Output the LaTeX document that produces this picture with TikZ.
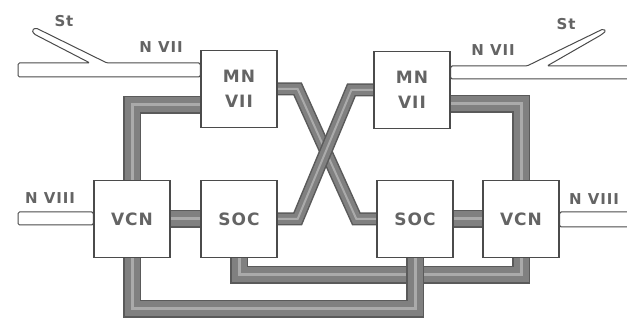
\documentclass[tikz,border=0pt]{standalone}
\usepackage{fontspec}
\newfontfamily\lblfont[LetterSpace=6]{DejaVu Sans Bold}
\usepackage{tikz}
\usetikzlibrary{backgrounds, calc}
\definecolor{boxgray}   {RGB}{ 75, 75, 75}
\definecolor{txtgray}   {RGB}{100,100,100}
\definecolor{cabledark} {RGB}{ 90, 90, 90}
\definecolor{cablemid}  {RGB}{128,128,128}
\definecolor{cablelight}{RGB}{170,170,170}

\begin{document}
\begin{tikzpicture}[x=1pt,y=-1pt,
	blok/.style={draw=boxgray,line width=1.3pt,fill=white,minimum width=76pt,minimum height=77pt,
		inner sep=0pt,align=center,text=txtgray,font=\lblfont\fontsize{17}{25}\selectfont},
	lbl/.style={text=txtgray,inner sep=0pt,font=\lblfont\fontsize{15}{18}\selectfont},
	road/.style={draw=boxgray,line width=1pt,fill=white,rounded corners=1.5pt},
	cable/.style={preaction={draw=cabledark,line width=18pt},draw=cablemid,line width=15pt,
		postaction={draw=cablelight,line width=3pt}},
	xcable/.style={preaction={draw=cabledark,line width=13pt},draw=cablemid,line width=10pt,
		postaction={draw=cablelight,line width=2pt}}]
	\useasboundingbox (0,0) rectangle (627,323);
	\clip (0,0) rectangle (627,323);
	\node[blok] (mnL)  at (239,89)  {MN\\VII};
	\node[blok] (mnR)  at (412,90)  {MN\\VII};
	\node[blok] (vcnL) at (132,219) {VCN};
	\node[blok] (socL) at (239,219) {SOC};
	\node[blok] (socR) at (415,219) {SOC};
	\node[blok] (vcnR) at (521,219) {VCN};
	\node[lbl] (stL)   at (64,21)  {St};
	\node[lbl] (nviiL) at (161,47) {N VII};
	\node[lbl] (stR)   at (566,24) {St};
	\node[lbl] (nviiR) at (493,50) {N VII};
	\node[lbl] (nviiiL) at (50,198) {N VIII};
	\node[lbl,anchor=west] (nviiiR) at (569,199) {N VIII};
	\begin{scope}[on background layer]
		\draw[road] (18,63) -- (90,63) -- (34,34) -- (32,30) -- (36,28) -- (107,63) -- (mnL.west |- 0,63)
			-- (mnL.west |- 0,77) -- (18,77) -- cycle;
		\draw[road] (mnR.east |- 0,66) -- (527,66) -- (603,29) -- (606,31) -- (601,35) -- (547,66) -- (640,66)
			-- (640,79) -- (mnR.east |- 0,79) -- cycle;
		\draw[road] (18,212) -- (vcnL.west |- 0,212) -- (vcnL.west |- 0,225) -- (18,225) -- cycle;
		\draw[road] (vcnR.east |- 0,212) -- (640,212) -- (640,227) -- (vcnR.east |- 0,227) -- cycle;
		\draw[cable] ([yshift=-16pt]mnL.west) -| (vcnL.north);
		\draw[cable] ([yshift=-14pt]mnR.east) -| (vcnR.north);
		\draw[cable] (vcnL) -- (socL);
		\draw[cable] (socR) -- (vcnR);
		\draw[xcable] (mnL.east) -- ++(20,0) -- ([xshift=-20pt]socR.west) -- (socR.west);
		\draw[xcable] (mnR.west) -- ++(-22,0) -- ([xshift=20pt]socL.east) -- (socL.east);
		\draw[cable] (socL.south) -- (socL.south |- 0,275) -| (vcnR.south);
		\draw[cable] (vcnL.south) -- (vcnL.south |- 0,309) -| (socR.south);
	\end{scope}
\end{tikzpicture}
\end{document}
